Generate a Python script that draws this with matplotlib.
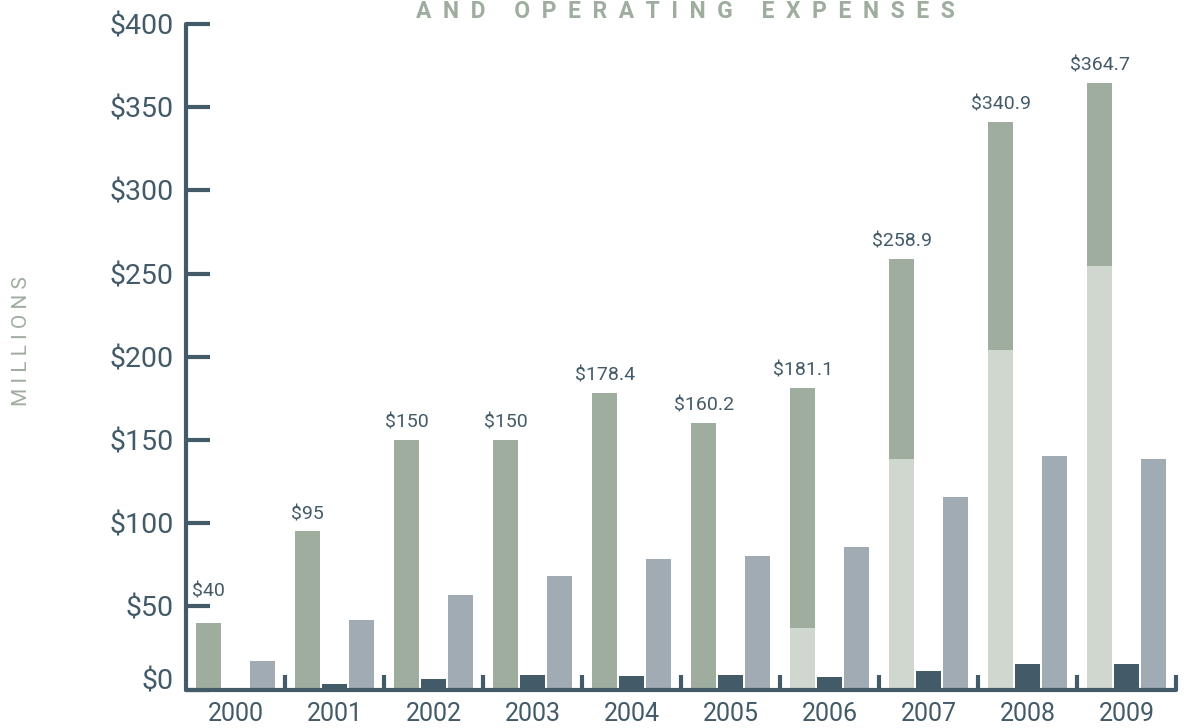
import matplotlib
matplotlib.use("Agg")
import matplotlib.pyplot as plt
import numpy as np

years = ['2000', '2001', '2002', '2003', '2004', '2005', '2006', '2007', '2008', '2009']
green_total = [40, 95, 150, 150, 178.4, 160.2, 181.1, 258.9, 340.9, 364.7]
green_light = [0, 0, 0, 0, 0, 0, 37, 138.5, 204, 254.5]
dark_vals = [0, 3.3, 6.3, 8.7, 8.3, 8.7, 7.7, 11, 15.5, 15.5]
gray_vals = [17, 42, 56.5, 68.5, 78.5, 80.5, 85.5, 115.5, 140.5, 138.5]
value_labels = ['$40', '$95', '$150', '$150', '$178.4', '$160.2', '$181.1',
                '$258.9', '$340.9', '$364.7']
ytick_vals = [0, 50, 100, 150, 200, 250, 300, 350, 400]
ytick_labels = ['$0', '$50', '$100', '$150', '$200', '$250', '$300', '$350', '$400']

C_GREEN = '#9fad9f'
C_LIGHT = '#cfd7cf'
C_DARK = '#435a69'
C_GRAY = '#a0abb4'
C_AXIS = '#435a69'

plt.rcParams['font.family'] = ['Roboto', 'DejaVu Sans']

fig = plt.figure(figsize=(11.84, 7.28), dpi=100)
ax = fig.add_axes([186/1184, 1 - 689.5/728, (1176-186)/1184, (689.5-24)/728])

x = np.arange(len(years))
w = 0.245
off = 0.272
g_total = np.array(green_total)
g_light = np.array(green_light)

ax.bar(x - off, g_light, width=w, color=C_LIGHT, zorder=2)
ax.bar(x - off, g_total - g_light, bottom=g_light, width=w, color=C_GREEN, zorder=2)
ax.bar(x, dark_vals, width=w, color=C_DARK, zorder=2)
ax.bar(x + off, gray_vals, width=w, color=C_GRAY, zorder=2)

for i, (v, lab) in enumerate(zip(green_total, value_labels)):
    dy = 6 if i > 0 else 16
    ax.annotate(lab, (x[i] - off, v), xytext=(0, dy), textcoords='offset points',
                ha='center', va='bottom', fontsize=14, color=C_DARK)

ax.set_xlim(-0.5, 9.5)
ax.set_ylim(0, 400)

for s in ['top', 'right']:
    ax.spines[s].set_visible(False)
for s in ['left', 'bottom']:
    ax.spines[s].set_color(C_AXIS)
    ax.spines[s].set_linewidth(3)
    ax.spines[s].set_capstyle('round')
ax.spines['bottom'].set_zorder(3)

ax.set_yticks(ytick_vals)
ax.set_yticklabels(ytick_labels)
ax.tick_params(axis='y', direction='in', length=17, width=3, color=C_AXIS,
               labelsize=20.5, labelcolor=C_DARK, pad=9)
ax.get_yticklabels()[0].set_verticalalignment('baseline')

ax.set_xticks(x)
ax.set_xticklabels(years)
ax.tick_params(axis='x', which='major', length=0, labelsize=18, labelcolor=C_DARK, pad=9)
ax.set_xticks(np.arange(0.5, 10, 1), minor=True)
ax.tick_params(axis='x', which='minor', direction='in', length=11, width=3, color=C_AXIS)
for t in ax.xaxis.get_minorticklines() + ax.yaxis.get_majorticklines():
    t.set_solid_capstyle('round')

fig.text(22/1184, 1 - 341/728, 'M I L L I O N S', rotation=90, ha='center', va='center',
         fontsize=15, color=C_GREEN)

fig.text(685/1184, 1 - 17.5/728, 'A  N  D     O  P  E  R  A  T  I  N  G     E  X  P  E  N  S  E  S',
         ha='center', va='baseline', fontsize=16.5, fontweight='bold', color=C_GREEN)

fig.savefig('out.png', dpi=100)
